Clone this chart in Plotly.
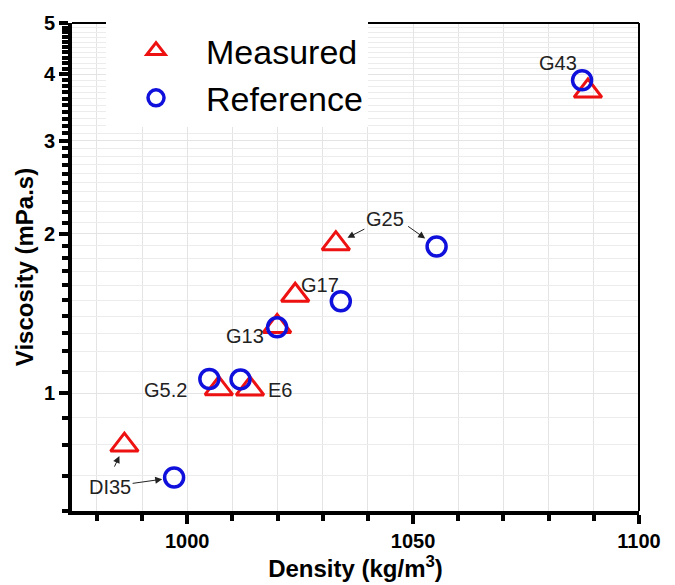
import math
import plotly.graph_objects as go

labels = ["DI35", "G5.2", "E6", "G13", "G17", "G25", "G43"]
meas_density = [986.1, 1007.0, 1013.9, 1019.9, 1023.9, 1032.9, 1088.7]
meas_visc = [0.799, 1.021, 1.02, 1.338, 1.532, 1.917, 3.72]
ref_density = [997.1, 1004.9, 1011.8, 1019.9, 1034.0, 1055.2, 1087.4]
ref_visc = [0.694, 1.065, 1.063, 1.333, 1.493, 1.893, 3.90]

x_major = [1000, 1050, 1100]
x_minor = [980, 990, 1010, 1020, 1030, 1040, 1060, 1070, 1080, 1090]
y_major = [1, 2, 3, 4, 5]
y_minor = [round(0.6 + 0.1 * i, 1) for i in range(44) if abs((0.6 + 0.1 * i) - round(0.6 + 0.1 * i)) > 1e-6]

FONT = "Liberation Sans, Arial, sans-serif"
RED = "#ee1111"
BLUE = "#1010dd"
INK = "#222222"
LABEL_FONT = dict(family=FONT, size=20, color=INK)

fig = go.Figure()
fig.add_trace(go.Scatter(
    x=meas_density, y=meas_visc, mode="markers", name="Measured",
    marker=dict(symbol="triangle-up-open", size=24, color=RED, line=dict(width=3, color=RED)),
))
fig.add_trace(go.Scatter(
    x=ref_density, y=ref_visc, mode="markers", name="Reference",
    marker=dict(symbol="circle-open", size=19, color=BLUE, line=dict(width=3.5, color=BLUE)),
))

def idx(name):
    return labels.index(name)

ARROW = dict(arrowhead=2, arrowsize=1.4, arrowwidth=1, arrowcolor=INK)

ann = []
# plain labels: (label, anchor series, pixel offset x, pixel offset y)
label_specs = [
    ("G5.2", meas_density, meas_visc, -53, -1),
    ("E6", meas_density, meas_visc, 30, -1),
    ("G13", ref_density, ref_visc, -32, -9),
    ("G17", meas_density, meas_visc, 25, 10),
    ("G43", ref_density, ref_visc, -24, 17),
]
for name, xs, ys, dx, dy in label_specs:
    i = idx(name)
    ann.append(dict(x=xs[i], y=math.log10(ys[i]), text=name, showarrow=False, xanchor="center",
                    yanchor="middle", xshift=dx, yshift=dy, font=LABEL_FONT))

# labels carrying an arrow: text centred at the arrow tail (pixel offset from the point)
arrow_label_specs = [
    ("DI35", ref_density, ref_visc, -64, 9, 12),
    ("G25", meas_density, meas_visc, 49, -25, 13),
]
for name, xs, ys, ax, ay, so in arrow_label_specs:
    i = idx(name)
    ann.append(dict(x=xs[i], y=math.log10(ys[i]), text=name, showarrow=True, ax=ax, ay=ay,
                    standoff=so, font=LABEL_FONT, **ARROW))

# second arrows from the same labels
extra_arrow_specs = [
    ("DI35", meas_density, meas_visc, -12, 26, 12),
    ("G25", ref_density, ref_visc, -31, -22, 14),
]
for name, xs, ys, ax, ay, so in extra_arrow_specs:
    i = idx(name)
    ann.append(dict(x=xs[i], y=math.log10(ys[i]), text="\u00a0", showarrow=True, ax=ax, ay=ay,
                    standoff=so, font=dict(family=FONT, size=6, color="white"), **ARROW))

fig.update_layout(
    width=675, height=585,
    margin=dict(l=72, r=36, t=15, b=68),
    paper_bgcolor="white", plot_bgcolor="white",
    font=dict(family=FONT, color="black"),
    showlegend=True,
    legend=dict(x=0.06, y=1.002, xanchor="left", yanchor="top",
                bgcolor="white", borderwidth=0,
                font=dict(family=FONT, size=34, color="black"),
                itemwidth=90, tracegroupgap=0),
    annotations=ann,
    xaxis=dict(
        range=[974.5, 1100], tickmode="array", tickvals=x_major,
        ticktext=[str(v) for v in x_major],
        ticks="outside", ticklen=9, tickwidth=4, tickcolor="black",
        showline=True, linewidth=4, linecolor="black",
        showgrid=True, gridcolor="#e4e4e4", gridwidth=1, zeroline=False,
        tickfont=dict(family=FONT, size=20, color="black", weight="bold"),
        title=dict(text="<b>Density (kg/m<sup>3</sup>)</b>", standoff=4,
                   font=dict(family=FONT, size=24, color="black")),
        minor=dict(tickmode="array", tickvals=x_minor, ticks="outside", ticklen=6,
                   tickwidth=4, tickcolor="black", showgrid=True,
                   gridcolor="#e4e4e4", gridwidth=1),
    ),
    yaxis=dict(
        type="log", range=[0.7782 - 1, 0.69897],
        tickmode="array", tickvals=y_major, ticktext=[str(v) for v in y_major],
        ticks="outside", ticklen=9, tickwidth=4, tickcolor="black",
        showline=True, linewidth=4, linecolor="black",
        showgrid=True, gridcolor="#e4e4e4", gridwidth=1, zeroline=False,
        tickfont=dict(family=FONT, size=20, color="black", weight="bold"),
        title=dict(text="<b>Viscosity (mPa.s)</b>", standoff=4,
                   font=dict(family=FONT, size=24, color="black")),
        minor=dict(tickmode="array", tickvals=y_minor, ticks="outside", ticklen=6,
                   tickwidth=4, tickcolor="black", showgrid=True,
                   gridcolor="#ececec", gridwidth=1),
    ),
    shapes=[
        dict(type="line", xref="paper", yref="paper", x0=0, x1=1, y0=1, y1=1,
             line=dict(color="black", width=2)),
        dict(type="line", xref="paper", yref="paper", x0=1, x1=1, y0=0, y1=1,
             line=dict(color="black", width=2)),
    ],
)

fig.write_html("out.html", config={"displayModeBar": False},
               post_script="document.body.style.margin='0px';")
